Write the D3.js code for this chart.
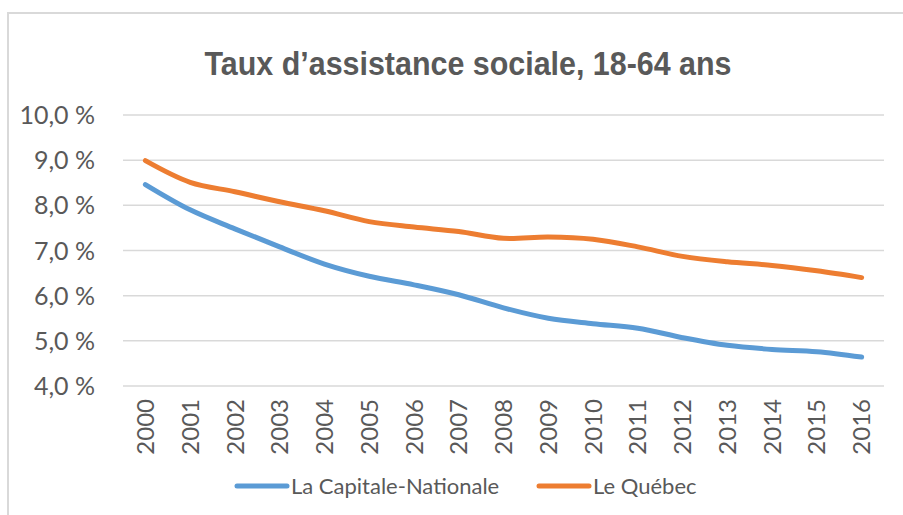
<!DOCTYPE html>
<html>
<head>
<meta charset="utf-8">
<script src="https://cdn.jsdelivr.net/npm/d3@7"></script>
<style>
  body { margin: 0; background: #fff; }
  text { fill: #595959; }
</style>
</head>
<body>
<div id="chart"></div>
<script>
// Données
const annees = ["2000", "2001", "2002", "2003", "2004", "2005", "2006", "2007", "2008",
  "2009", "2010", "2011", "2012", "2013", "2014", "2015", "2016"];
const capitaleNationale = [8.46, 7.90, 7.48, 7.08, 6.70, 6.43, 6.24, 6.02, 5.73, 5.50,
  5.38, 5.28, 5.07, 4.90, 4.81, 4.76, 4.64];
const quebec = [8.99, 8.51, 8.30, 8.08, 7.88, 7.64, 7.52, 7.42, 7.27, 7.30,
  7.25, 7.08, 6.87, 6.75, 6.67, 6.55, 6.40];
const yTicks = [4, 5, 6, 7, 8, 9, 10];
const series = [
  { nom: "La Capitale-Nationale", valeurs: capitaleNationale, couleur: "#5B9BD5" },
  { nom: "Le Québec", valeurs: quebec, couleur: "#ED7D31" }
];

const width = 903;
const height = 515;
const margin = { top: 115, right: 19, bottom: 129, left: 123 };

const svg = d3.select("#chart")
  .append("svg")
  .attr("width", width)
  .attr("height", height);

// Cadre
svg.append("path")
  .attr("d", `M8,${height} V13 H${width}`)
  .attr("fill", "none")
  .attr("stroke", "#d9d9d9")
  .attr("stroke-width", 2);

// Titre (police étroite simulée)
svg.append("text")
  .attr("x", 468)
  .attr("y", 75)
  .attr("text-anchor", "middle")
  .attr("textLength", 527)
  .attr("lengthAdjust", "spacingAndGlyphs")
  .style("font-family", "'Liberation Sans Narrow', 'Liberation Sans', sans-serif")
  .style("font-weight", "bold")
  .style("font-size", "33px")
  .text("Taux d’assistance sociale, 18-64 ans");

const x = d3.scaleBand()
  .domain(annees)
  .range([margin.left, width - margin.right]);

const y = d3.scaleLinear()
  .domain([4, 10])
  .range([height - margin.bottom, margin.top]);

// Grille
svg.append("g")
  .selectAll("line")
  .data(yTicks)
  .join("line")
  .attr("x1", margin.left)
  .attr("x2", width - margin.right)
  .attr("y1", d => y(d))
  .attr("y2", d => y(d))
  .attr("stroke", "#d9d9d9")
  .attr("stroke-width", 1.5);

// Axe Y
const fmt = d => d3.format(".1f")(d).replace(".", ",") + " %";
svg.append("g")
  .selectAll("text")
  .data(yTicks)
  .join("text")
  .attr("x", 95)
  .attr("y", d => y(d))
  .attr("dy", "0.36em")
  .attr("text-anchor", "end")
  .style("font-family", "Lato, sans-serif")
  .style("font-size", "25px")
  .text(fmt);

// Axe X (étiquettes verticales)
svg.append("g")
  .selectAll("text")
  .data(annees)
  .join("text")
  .attr("transform", d => `translate(${x(d) + x.bandwidth() / 2},399) rotate(-90)`)
  .attr("dy", "0.36em")
  .attr("text-anchor", "end")
  .style("font-family", "Lato, sans-serif")
  .style("font-size", "24px")
  .text(d => d);

// Lignes
const line = d3.line()
  .x((d, i) => x(annees[i]) + x.bandwidth() / 2)
  .y(d => y(d))
  .curve(d3.curveCatmullRom.alpha(0.5));

svg.append("g")
  .selectAll("path")
  .data(series)
  .join("path")
  .attr("d", d => line(d.valeurs))
  .attr("fill", "none")
  .attr("stroke", d => d.couleur)
  .attr("stroke-width", 5)
  .attr("stroke-linecap", "round")
  .attr("stroke-linejoin", "round");

// Légende
const legendPos = [235, 537];
const legende = svg.append("g")
  .selectAll("g")
  .data(series)
  .join("g")
  .attr("transform", (d, i) => `translate(${legendPos[i]},486)`);

legende.append("line")
  .attr("x1", 2).attr("x2", 52)
  .attr("stroke", d => d.couleur)
  .attr("stroke-width", 5)
  .attr("stroke-linecap", "round");

legende.append("text")
  .attr("x", 56)
  .attr("dy", "0.36em")
  .style("font-family", "Lato, sans-serif")
  .style("font-size", "22px")
  .text(d => d.nom);
</script>
</body>
</html>
